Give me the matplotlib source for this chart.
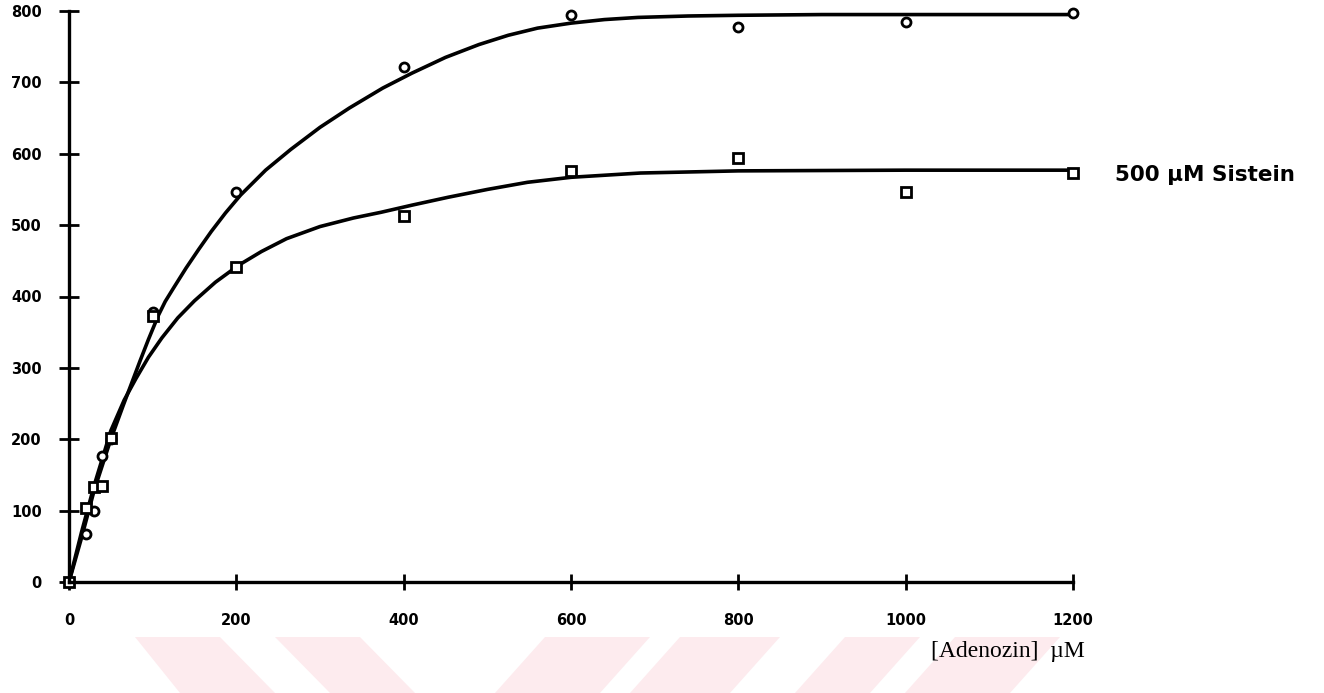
import matplotlib
matplotlib.use("Agg")
import matplotlib.pyplot as plt
from matplotlib.patches import Polygon

# mätpunkter, kontroll (cirklar)
x_kontroll = [0, 20, 30, 40, 50, 100, 200, 400, 600, 800, 1000, 1200]
v_kontroll = [0, 67, 100, 177, 200, 378, 546, 721, 794, 778, 784, 797]

# mätpunkter, 500 uM sistein (kvadrater)
x_sistein = [0, 20, 30, 40, 50, 100, 200, 400, 600, 800, 1000, 1200]
v_sistein = [0, 103, 133, 135, 202, 372, 442, 513, 576, 594, 547, 573]

# kurvorna
kurva_kontroll_x = [0, 15, 30, 50, 65, 85, 95, 107, 115, 125, 140, 155, 170, 187, 205, 235, 265, 300, 335,
                    375, 410, 450, 490, 525, 560, 600, 640, 680, 740, 800, 900, 1000, 1100, 1200]
kurva_kontroll_v = [0, 62, 128, 200, 248, 310, 340, 374, 393, 412, 440, 466, 491, 517, 542, 577, 606, 637, 664,
                    692, 713, 735, 753, 766, 776, 783, 788, 791, 793, 794, 795, 795, 795, 795]
kurva_sistein_x = [0, 15, 30, 50, 66, 80, 95, 111, 130, 150, 175, 203, 230, 260, 300, 340, 373,
                   410, 453, 500, 548, 600, 683, 800, 1000, 1200]
kurva_sistein_v = [0, 70, 135, 212, 255, 285, 315, 342, 370, 394, 420, 444, 463, 481, 498, 510, 518,
                   528, 539, 550, 560, 567, 573, 576, 577, 577]

x_ticks = [0, 200, 400, 600, 800, 1000, 1200]
y_ticks = [0, 100, 200, 300, 400, 500, 600, 700, 800]

fig = plt.figure(figsize=(13.24, 6.93), dpi=100)

# rosa vattenstämpel längst ner
rosa = "#fdebee"
ränder = [
    [(135, 637), (220, 637), (275, 693), (180, 693)],
    [(275, 637), (360, 637), (415, 693), (330, 693)],
    [(545, 637), (650, 637), (600, 693), (495, 693)],
    [(680, 637), (780, 637), (730, 693), (630, 693)],
    [(845, 637), (920, 637), (870, 693), (795, 693)],
    [(955, 637), (1060, 637), (1010, 693), (905, 693)],
]
for r in ränder:
    pts = [(px / 1324, 1 - py / 693) for px, py in r]
    fig.patches.append(Polygon(pts, closed=True, transform=fig.transFigure,
                               facecolor=rosa, edgecolor="none", zorder=0))

ax = fig.add_axes([69 / 1324, 111 / 693, (1073 - 69) / 1324, (582 - 11) / 693])
ax.patch.set_alpha(0)

ax.plot(kurva_kontroll_x, kurva_kontroll_v, color="black", lw=2.6, clip_on=False,
        solid_joinstyle="round")
ax.plot(kurva_sistein_x, kurva_sistein_v, color="black", lw=2.6, clip_on=False,
        solid_joinstyle="round")
ax.plot(x_kontroll, v_kontroll, "o", ms=6.5, mfc="white", mec="black", mew=2, clip_on=False)
ax.plot(x_sistein, v_sistein, "s", ms=6.8, mfc="white", mec="black", mew=2, clip_on=False)

ax.set_xlim(0, 1200)
ax.set_ylim(0, 800)
ax.spines["top"].set_visible(False)
ax.spines["right"].set_visible(False)
ax.spines["left"].set_linewidth(2.4)
ax.spines["bottom"].set_linewidth(2.4)
ax.set_xticks(x_ticks)
ax.set_yticks(y_ticks)
ax.tick_params(axis="x", direction="inout", length=12, width=2, pad=16)
ax.tick_params(axis="y", direction="inout", length=15, width=2, pad=12)
for lab in ax.get_xticklabels() + ax.get_yticklabels():
    lab.set_fontweight("bold")
    lab.set_fontsize(10.5)

ax.text(1250, 570, "500 µM Sistein", fontsize=15.5, fontweight="bold",
        va="center", ha="left", clip_on=False)

fig.text(1008 / 1324, 1 - 652 / 693, "[Adenozin]  µM", family="Liberation Serif",
         fontsize=17, ha="center", va="center")

fig.savefig("out.png", dpi=100)
